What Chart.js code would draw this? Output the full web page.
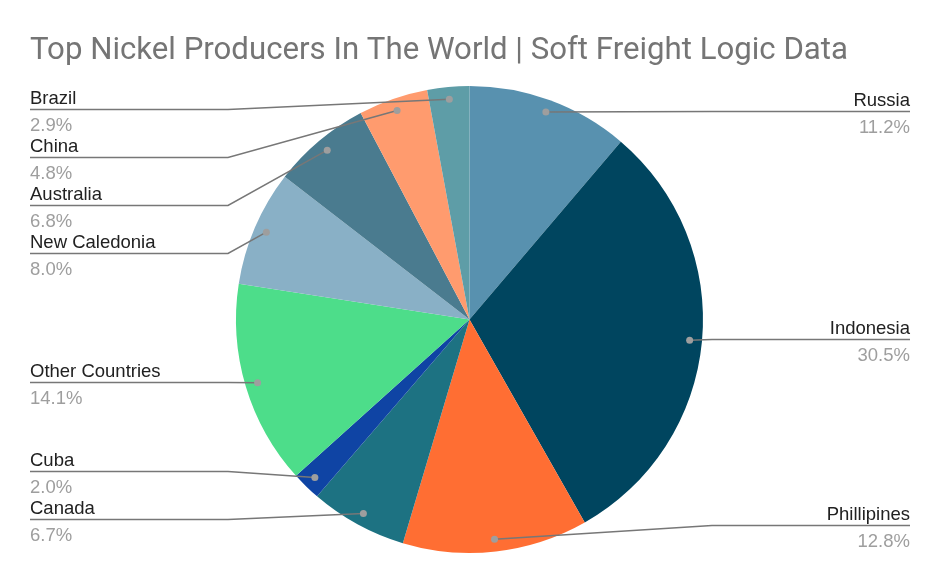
<!DOCTYPE html>
<html>
<head>
<meta charset="utf-8">
<script src="https://cdn.jsdelivr.net/npm/chart.js@4"></script>
<style>
  html, body { margin: 0; padding: 0; background: #fff; }
  #wrap { width: 940px; height: 580px; }
</style>
</head>
<body>
<div id="wrap"><canvas id="myChart" width="940" height="580"></canvas></div>
<script>
const countries = ['Russia', 'Indonesia', 'Phillipines', 'Canada', 'Cuba', 'Other Countries', 'New Caledonia', 'Australia', 'China', 'Brazil']
const shares = [11.2, 30.5, 12.8, 6.7, 2.0, 14.1, 8.0, 6.8, 4.8, 2.9]
const sliceColors = ['#5891af', '#00455f', '#ff6e33', '#1d7282', '#0f44a4', '#4ddd8a', '#89b0c6', '#4a7b8f', '#ff9b6e', '#5e9da7']

const chartTitle = 'Top Nickel Producers In The World | Soft Freight Logic Data'

// leader lines + labels, google sheets style
const calloutPlugin = {
    id: 'callouts',
    afterDraw(chart) {
        const ctx = chart.ctx
        const arcs = chart.getDatasetMeta(0).data

        ctx.save()
        ctx.fillStyle = '#757575'
        ctx.font = '31px Roboto'
        ctx.textBaseline = 'alphabetic'
        ctx.textAlign = 'left'
        // stretch to the width the title has in the sheet
        const tw = ctx.measureText(chartTitle).width
        ctx.save()
        ctx.translate(30, 59)
        ctx.scale(818 / tw, 1)
        ctx.fillText(chartTitle, 0, 0)
        ctx.restore()

        const items = arcs.map((arc, i) => {
            const p = arc.getProps(['x', 'y', 'startAngle', 'endAngle', 'outerRadius'], true)
            const mid = (p.startAngle + p.endAngle) / 2
            const r = p.outerRadius * 0.947
            const dx = p.x + Math.cos(mid) * r
            const dy = p.y + Math.sin(mid) * r
            return { i, dx, dy, right: dx >= p.x, y: dy }
        })

        const spread = (list, minY, maxY, gap) => {
            list.sort((a, b) => a.dy - b.dy)
            // cluster overlapping labels round their mean
            let groups = list.map(it => ({ items: [it], y: it.dy }))
            let moved = true
            while (moved) {
                moved = false
                for (let g = 0; g < groups.length - 1; g++) {
                    const a = groups[g], b = groups[g + 1]
                    const aBottom = a.y + (a.items.length - 1) * gap / 2
                    const bTop = b.y - (b.items.length - 1) * gap / 2
                    if (bTop - aBottom < gap) {
                        const all = a.items.concat(b.items)
                        const mean = all.reduce((s, it) => s + it.dy, 0) / all.length
                        groups.splice(g, 2, { items: all, y: mean })
                        moved = true
                        break
                    }
                }
            }
            groups.forEach(g => g.items.forEach((it, k) => {
                it.y = g.y + (k - (g.items.length - 1) / 2) * gap
            }))
            let prev = minY - gap
            list.forEach(it => { it.y = Math.max(it.y, prev + gap); prev = it.y })
            let next = maxY + gap
            for (let k = list.length - 1; k >= 0; k--) {
                list[k].y = Math.min(list[k].y, next - gap)
                next = list[k].y
            }
        }
        spread(items.filter(it => !it.right), 110, 526, 48)
        spread(items.filter(it => it.right), 110, 526, 48)

        items.forEach(it => {
            const ly = Math.round(it.y) - 0.5
            ctx.strokeStyle = '#777777'
            ctx.lineWidth = 1.5
            ctx.beginPath()
            if (it.right) {
                ctx.moveTo(910, ly)
                ctx.lineTo(712, ly)
            } else {
                ctx.moveTo(30, ly)
                ctx.lineTo(228, ly)
            }
            ctx.lineTo(it.dx, it.dy)
            ctx.stroke()

            ctx.fillStyle = '#9e9e9e'
            ctx.beginPath()
            ctx.arc(it.dx, it.dy, 3.5, 0, Math.PI * 2)
            ctx.fill()

            ctx.textAlign = it.right ? 'right' : 'left'
            const tx = it.right ? 910 : 30
            ctx.font = '18.5px "Liberation Sans", Arial'
            ctx.fillStyle = '#212121'
            ctx.fillText(countries[it.i], tx, ly - 6)
            ctx.fillStyle = '#9e9e9e'
            ctx.fillText(shares[it.i].toFixed(1) + '%', tx, ly + 21)
        })
        ctx.restore()
    }
}

const ctx = document.getElementById('myChart')

new Chart(ctx, {
    type: 'pie',
    data: {
        labels: countries,
        datasets: [{
            data: shares,
            backgroundColor: sliceColors,
            borderWidth: 0
        }]
    },
    options: {
        responsive: false,
        animation: false,
        layout: {
            padding: { top: 86, bottom: 27, left: 236, right: 237 }
        },
        plugins: {
            legend: { display: false },
            tooltip: { enabled: false },
            title: { display: false }
        }
    },
    plugins: [calloutPlugin]
});
</script>
</body>
</html>
